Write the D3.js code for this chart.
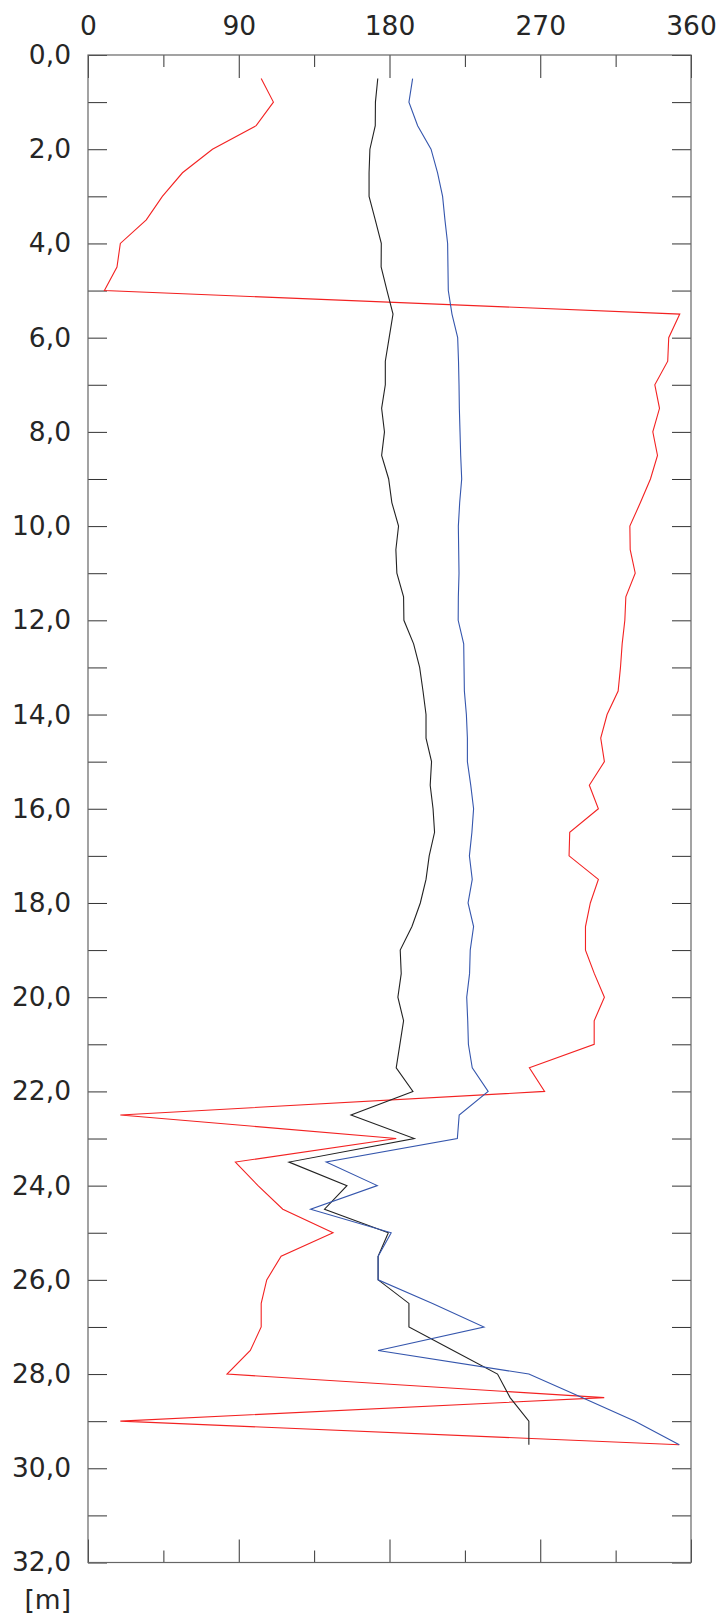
<!DOCTYPE html>
<html>
<head>
<meta charset="utf-8">
<script src="https://cdn.jsdelivr.net/npm/d3@7"></script>
<style>
  html, body { margin: 0; padding: 0; background: #fff; }
  svg { display: block; }
  text { font-family: "DejaVu Sans", Verdana, sans-serif; fill: #262626; }
</style>
</head>
<body>
<svg id="chart" width="721" height="1616"></svg>
<script>
const depths = [0.5,1.0,1.5,2.0,2.5,3.0,3.5,4.0,4.5,5.0,5.5,6.0,6.5,7.0,7.5,8.0,8.5,9.0,9.5,10.0,
  10.5,11.0,11.5,12.0,12.5,13.0,13.5,14.0,14.5,15.0,15.5,16.0,16.5,17.0,17.5,18.0,18.5,19.0,19.5,20.0,
  20.5,21.0,21.5,22.0,22.5,23.0,23.5,24.0,24.5,25.0,25.5,26.0,26.5,27.0,27.5,28.0,28.5,29.0,29.5];

const redValues = [103.4,110.7,100.4,74.3,56.4,44.4,34.8,19.3,17.3,9.8,353.3,346.7,346.1,338.4,341.2,337.2,340.0,335.8,329.8,323.5,
  323.7,326.7,321.1,320.5,318.9,317.9,316.5,309.9,306.1,308.3,299.3,304.7,287.6,287.2,304.7,299.9,297.0,297.0,302.3,308.3,
  302.2,302.2,263.5,272.6,19.3,184.0,88.0,101.5,116.3,146.3,115.3,106.7,103.4,103.4,96.9,83.0,308.2,19.3,353.0];

const blackValues = [173.0,171.6,171.5,168.3,167.8,167.8,171.5,175.1,175.0,178.5,182.1,179.8,177.5,177.5,175.3,177.0,175.3,179.5,181.4,185.4,
  183.8,184.4,188.4,188.6,194.4,198.0,200.0,201.8,201.8,205.1,204.3,206.0,206.9,203.7,201.8,198.4,193.4,186.4,187.0,185.0,
  188.4,186.2,184.0,194.0,157.0,194.8,120.0,154.6,141.2,179.3,173.2,173.2,191.6,191.6,218.0,244.5,252.0,263.2,263.2];

const blueValues = [193.8,191.6,196.8,204.8,208.7,211.7,213.1,214.7,214.9,215.1,217.3,220.7,221.2,221.5,221.7,222.1,222.5,223.1,221.9,221.1,
  221.3,221.5,221.1,221.0,224.3,224.5,224.7,225.9,226.5,226.5,228.5,230.2,229.2,227.7,229.4,226.9,230.2,228.2,227.8,226.1,
  226.7,227.1,229.4,238.9,221.6,220.5,142.2,172.7,132.9,181.0,173.2,173.2,205.7,236.4,173.2,263.2,294.9,326.6,353.0];

const xMajorTicks = [0, 90, 180, 270, 360];
const xMinorTicks = [45, 135, 225, 315];
const yLabelTicks = [0,2,4,6,8,10,12,14,16,18,20,22,24,26,28,30,32];
const yMinorTicks = [1,3,5,7,9,11,13,15,17,19,21,23,25,27,29,31];
const unitLabel = "[m]";

const series = [
  { values: redValues, color: "#f32222" },
  { values: blackValues, color: "#222222" },
  { values: blueValues, color: "#3556ad" }
];

(function () {
const pLeft = 88, pRight = 691, pTop = 55, pBottom = 1562.5;
const fontSize = "26.5px";
const svg = d3.select("#chart");
const x = d3.scaleLinear().domain([0, 360]).range([pLeft, pRight]);
const y = d3.scaleLinear().domain([0, 32]).range([pTop, pBottom]);

const fmt = d => d3.format(".1f")(d).replace(".", ",");
const tickColor = "#333";

function styleAxis(g) {
  g.select(".domain").remove();
  g.selectAll(".tick line").attr("stroke", tickColor).attr("stroke-width", 1);
  g.selectAll(".tick text").style("font-family", '"DejaVu Sans", Verdana, sans-serif')
    .style("font-size", fontSize).attr("fill", "#262626");
}

// top axis
svg.append("g").attr("transform", `translate(0,${pTop})`)
  .call(d3.axisTop(x).tickValues(xMajorTicks).tickSize(-23).tickPadding(20).tickFormat(d3.format("d")))
  .call(styleAxis);
svg.append("g").attr("transform", `translate(0,${pTop})`)
  .call(d3.axisTop(x).tickValues(xMinorTicks).tickSize(-12).tickFormat(""))
  .call(styleAxis);
// bottom axis
svg.append("g").attr("transform", `translate(0,${pBottom})`)
  .call(d3.axisBottom(x).tickValues(xMajorTicks).tickSize(-23).tickFormat(""))
  .call(styleAxis);
svg.append("g").attr("transform", `translate(0,${pBottom})`)
  .call(d3.axisBottom(x).tickValues(xMinorTicks).tickSize(-12).tickFormat(""))
  .call(styleAxis);
// left axis
svg.append("g").attr("transform", `translate(${pLeft},0)`)
  .call(d3.axisLeft(y).tickValues(yLabelTicks).tickSize(-19).tickPadding(17).tickFormat(fmt))
  .call(styleAxis);
svg.append("g").attr("transform", `translate(${pLeft},0)`)
  .call(d3.axisLeft(y).tickValues(yMinorTicks).tickSize(-19).tickFormat(""))
  .call(styleAxis);
// right axis
svg.append("g").attr("transform", `translate(${pRight},0)`)
  .call(d3.axisRight(y).tickValues(yLabelTicks.concat(yMinorTicks)).tickSize(-19).tickFormat(""))
  .call(styleAxis);

// frame
svg.append("rect")
  .attr("x", pLeft).attr("y", pTop)
  .attr("width", pRight - pLeft).attr("height", pBottom - pTop)
  .attr("fill", "none").attr("stroke", "#666").attr("stroke-width", 1.2);

// unit label
svg.append("text")
  .attr("x", pLeft - 17).attr("y", 1609)
  .attr("text-anchor", "end")
  .style("font-size", fontSize)
  .text(unitLabel);

// lines
const line = d3.line().x(d => x(d[1])).y(d => y(d[0]));
series.forEach(s => {
  svg.append("path")
    .datum(depths.map((d, i) => [d, s.values[i]]))
    .attr("d", line)
    .attr("fill", "none")
    .attr("stroke", s.color)
    .attr("stroke-width", 1.1)
    .attr("stroke-linejoin", "miter");
});
})();
</script>
</body>
</html>
